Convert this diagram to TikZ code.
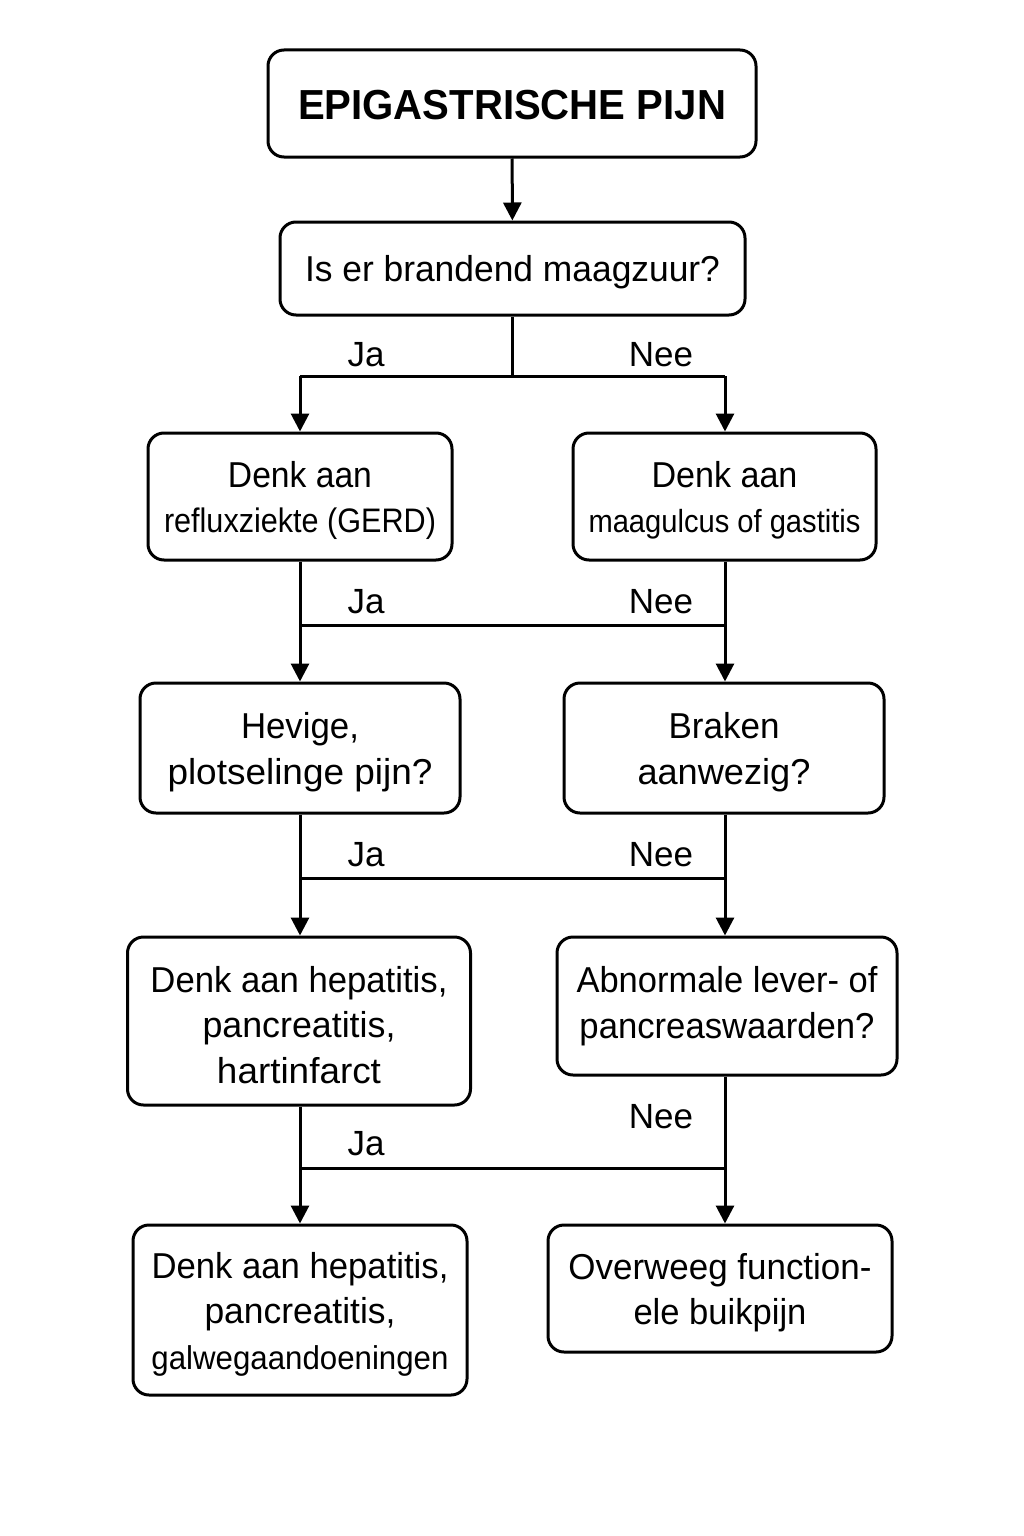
\documentclass[tikz,border=0pt]{standalone}
\usepackage{fontspec}
\setmainfont{Liberation Sans}
\usepackage{graphicx}
\usetikzlibrary{arrows.meta}
\newcommand{\hf}[3][4]{\raisebox{-#1pt}[\height][\depth]{\resizebox{#2pt}{\height}{#3}}}
\begin{document}
\begin{tikzpicture}[x=1pt,y=-1pt,
  box/.style={draw, line width=3pt, rounded corners=16pt, inner sep=0pt, align=center,
    font=\fontsize{36}{45.5}\selectfont, text=black},
  conn/.style={line width=3pt},
  arr/.style={line width=3pt, -{Triangle[length=18pt,width=18pt]}},
  lab/.style={font=\fontsize{35}{40}\selectfont, inner sep=0pt}]
\useasboundingbox[fill=white] (0,0) rectangle (1024,1536);

\node[box, minimum width=488pt, minimum height=107pt] (title) at (512,103.5)
  {\bfseries\fontsize{42}{50}\selectfont\hf[2]{428}{EPIGASTRISCHE PIJN}};
\node[box, minimum width=465pt, minimum height=93pt] (q1) at (512.5,268.5)
  {\hf{415}{Is er brandend maagzuur?}};
\node[box, minimum width=304pt, minimum height=127pt] (gerd) at (300,496.5)
  {\hf{144}{Denk aan}\\\fontsize{34}{40}\selectfont\hf{272}{refluxziekte (GERD)}};
\node[box, minimum width=303pt, minimum height=127pt] (ulcus) at (724.5,496.5)
  {\hf{146}{Denk aan}\\\fontsize{32}{40}\selectfont\hf{272}{maagulcus of gastitis}};
\node[box, minimum width=320pt, minimum height=130pt] (hevige) at (300,748)
  {\hf{118}{Hevige,}\\\hf{265}{plotselinge pijn?}};
\node[box, minimum width=320pt, minimum height=130pt] (braken) at (724,748)
  {\hf{111}{Braken}\\\hf{173}{aanwezig?}};
\node[box, minimum width=343pt, minimum height=168pt] (hep1) at (299,1021)
  {\hf{297}{Denk aan hepatitis,}\\\hf{193}{pancreatitis,}\\\hf{164}{hartinfarct}};
\node[box, minimum width=340pt, minimum height=138pt] (abn) at (727,1006)
  {\hf[0]{301}{Abnormale lever- of}\\\hf[0]{295}{pancreaswaarden?}};
\node[box, minimum width=334pt, minimum height=170pt] (hep2) at (300,1310)
  {\hf{297}{Denk aan hepatitis,}\\\hf{191}{pancreatitis,}\\\fontsize{33}{40}\selectfont\hf{297}{galwegaandoeningen}};
\node[box, minimum width=344pt, minimum height=127pt] (func) at (720,1288.5)
  {\hf{303}{Overweeg function-}\\\hf{173}{ele buikpijn}};

% labels
\node[lab] (ja1) at (366,355) {Ja};
\node[lab] (nee1) at (661,355) {Nee};
\node[lab] (ja2) at (366,602) {Ja};
\node[lab] (nee2) at (661,602) {Nee};
\node[lab] (ja3) at (366,855) {Ja};
\node[lab] (nee3) at (661,855) {Nee};
\node[lab] (ja4) at (366,1144) {Ja};
\node[lab] (nee4) at (661,1117) {Nee};

\coordinate (h1) at (0,376);
\coordinate (h2) at (0,625);
\coordinate (h3) at (0,878);
\coordinate (h4) at (0,1168);
\coordinate (xl) at (300,0);
\coordinate (xr) at (725,0);

% connectors
\draw[arr] (title) -- (q1);
\draw[conn] (q1.south) -- (q1.south |- h1);
\draw[conn] (xl |- h1) -- (xr |- h1);
\draw[arr] (xl |- h1) -- (xl |- gerd.north);
\draw[arr] (xr |- h1) -- (xr |- ulcus.north);

\draw[arr] (xl |- gerd.south) -- (xl |- hevige.north);
\draw[arr] (xr |- ulcus.south) -- (xr |- braken.north);
\draw[conn] (xl |- h2) -- (xr |- h2);

\draw[arr] (xl |- hevige.south) -- (xl |- hep1.north);
\draw[arr] (xr |- braken.south) -- (xr |- abn.north);
\draw[conn] (xl |- h3) -- (xr |- h3);

\draw[arr] (xl |- hep1.south) -- (xl |- hep2.north);
\draw[arr] (xr |- abn.south) -- (xr |- func.north);
\draw[conn] (xl |- h4) -- (xr |- h4);
\end{tikzpicture}
\end{document}
